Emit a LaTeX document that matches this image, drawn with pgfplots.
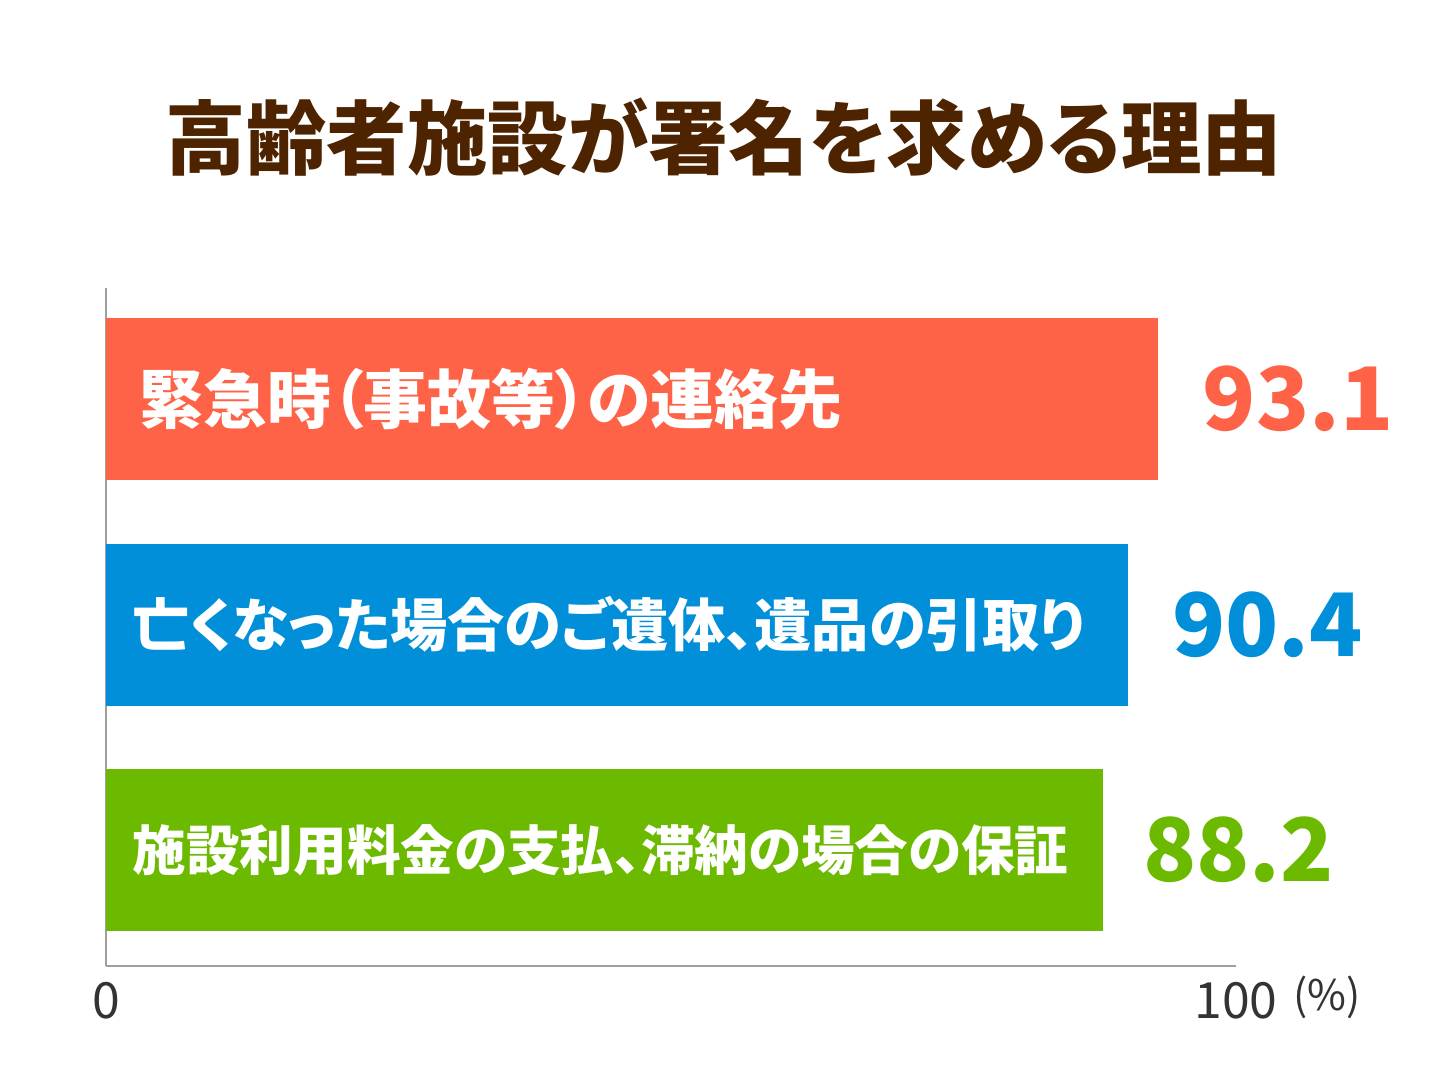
\documentclass[border=0pt]{standalone}
\usepackage{pgfplots}
\pgfplotsset{compat=1.18}
\usepackage{fontspec}
\setmainfont{Noto Sans CJK JP}
\newfontfamily\jp[RawFeature=+palt]{Noto Sans CJK JP}
\newfontfamily\jpn{Noto Sans CJK JP}
\definecolor{cred}{HTML}{FF6347}
\definecolor{cblue}{HTML}{008FD8}
\definecolor{cgreen}{HTML}{6BBA00}
\definecolor{ctitle}{HTML}{4D2300}
\definecolor{ctick}{HTML}{333333}
\begin{document}
\begin{tikzpicture}[x=1mm,y=1mm]
\useasboundingbox (0,0) rectangle (145.2,108.9);
\node[font=\jp\bfseries\fontsize{22.9}{24}\selectfont, text=ctitle, inner sep=0] at (72.4,95.2) {高齢者施設が署名を求める理由};
\begin{axis}[
  at={(10.6mm,12.3mm)}, anchor=south west,
  scale only axis, width=113mm, height=67.8mm,
  xbar, bar width=16.2mm, bar shift=0pt,
  xmin=0, xmax=100, ymin=-0.514, ymax=2.492,
  axis x line=bottom, axis y line=left,
  axis line style={-, draw=gray!75, line width=0.2mm},
  ytick=\empty, xtick={0,100},
  major tick length=0pt,
  xticklabel style={font=\jpn\fontsize{14.2}{15}\selectfont, text=ctick, yshift=-0.4mm},
  /pgf/number format/assume math mode=true,
  clip=false,
  point meta=x,
  nodes near coords={\pgfmathprintnumber[fixed,precision=1,fixed zerofill]{\pgfplotspointmeta}},
  nodes near coords align={horizontal},
]
\addplot[fill=cred, draw=none, nodes near coords style={anchor=west, inner sep=0, xshift=4.4mm, text=cred, font=\jpn\bfseries\fontsize{24.9}{27}\selectfont}] coordinates {(93.1,2)};
\addplot[fill=cblue, draw=none, nodes near coords style={anchor=west, inner sep=0, xshift=4.4mm, text=cblue, font=\jpn\bfseries\fontsize{24.9}{27}\selectfont}] coordinates {(90.4,1)};
\addplot[fill=cgreen, draw=none, nodes near coords style={anchor=west, inner sep=0, xshift=4.0mm, text=cgreen, font=\jpn\bfseries\fontsize{24.9}{27}\selectfont}] coordinates {(88.2,0)};
\node[anchor=west, inner sep=0, xshift=3.3mm, text=white, font=\jp\bfseries\fontsize{18.2}{20}\selectfont] at (axis cs:0,2) {緊急時（事故等）の連絡先};
\node[anchor=west, inner sep=0, xshift=2.6mm, text=white, font=\jp\bfseries\fontsize{16.3}{18}\selectfont] at (axis cs:0,1) {亡くなった場合のご遺体、遺品の引取り};
\node[anchor=west, inner sep=0, xshift=2.6mm, text=white, font=\jp\bfseries\fontsize{15.25}{17}\selectfont] at (axis cs:0,0) {施設利用料金の支払、滞納の場合の保証};
\end{axis}
\node[anchor=west, inner sep=0, text=ctick, font=\jpn\fontsize{12}{14}\selectfont] at (129.3,9.2) {(\%)};
\end{tikzpicture}
\end{document}
